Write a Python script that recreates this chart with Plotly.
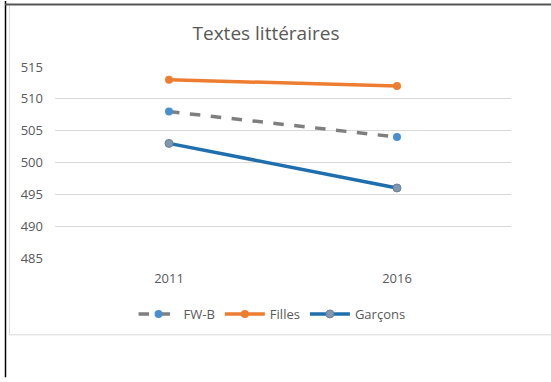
import plotly.graph_objects as go

# Reading scores for literary texts
years = ["2011", "2016"]
fwb = [508, 504]
filles = [513, 512]
garcons = [503, 496]
y_ticks = [485, 490, 495, 500, 505, 510, 515]

W, H = 551, 382
L, R, T, B = 55, 40, 67, 121
pw, ph = W - L - R, H - T - B


def px_x(x):
    return (x - L) / pw


def px_y(y):
    return (H - B - y) / ph


fig = go.Figure()

fig.add_trace(go.Scatter(
    x=years, y=fwb, name="FW-B", mode="lines+markers",
    line=dict(color="#7f7f7f", width=3.5, dash="dash"),
    marker=dict(color="#4a90d0", size=8),
))
fig.add_trace(go.Scatter(
    x=years, y=filles, name="Filles", mode="lines+markers",
    line=dict(color="#ed7d31", width=3.5),
    marker=dict(color="#ed7d31", size=8),
))
fig.add_trace(go.Scatter(
    x=years, y=garcons, name="Garçons", mode="lines+markers",
    line=dict(color="#1f6fae", width=3.5),
    marker=dict(color="#8197b0", size=8, line=dict(color="#6b819a", width=1)),
))

grey = "#595959"
shapes = [
    # sheet frame lines
    dict(type="line", xref="paper", yref="paper",
         x0=px_x(5.5), x1=px_x(5.5), y0=px_y(0), y1=px_y(382),
         line=dict(color="#000000", width=1.5)),
    dict(type="line", xref="paper", yref="paper",
         x0=px_x(5), x1=px_x(551), y0=px_y(3.5), y1=px_y(3.5),
         line=dict(color="#555555", width=2)),
    # chart area border
    dict(type="line", xref="paper", yref="paper",
         x0=px_x(9.5), x1=px_x(9.5), y0=px_y(5), y1=px_y(339),
         line=dict(color="#d9d9d9", width=1)),
    dict(type="line", xref="paper", yref="paper",
         x0=px_x(9.5), x1=px_x(551), y0=px_y(339), y1=px_y(339),
         line=dict(color="#d9d9d9", width=1)),
]

fig.update_layout(
    width=W, height=H,
    margin=dict(l=L, r=R, t=T, b=B),
    paper_bgcolor="white", plot_bgcolor="white",
    font=dict(family="Open Sans, Liberation Sans, sans-serif", color=grey, size=13),
    title=dict(text="Textes littéraires", x=266 / W, xanchor="center",
               y=1 - 33 / H, yanchor="middle",
               font=dict(size=19, color=grey)),
    xaxis=dict(type="category", range=[-0.5, 1.5], showgrid=False,
               showline=False, zeroline=False, ticks="",
               ticklabelstandoff=11, tickfont=dict(size=13, color=grey)),
    yaxis=dict(range=[485, 515], tickvals=y_ticks, showgrid=True,
               gridcolor="#d9d9d9", gridwidth=1, zeroline=False,
               showline=False, ticks="", ticklabelstandoff=11,
               tickfont=dict(size=13, color=grey)),
    legend=dict(orientation="h", x=0.476, xanchor="center",
                yref="container", y=(H - 314) / H, yanchor="middle",
                font=dict(size=13, color=grey), itemwidth=40,
                traceorder="normal"),
    shapes=shapes,
    showlegend=True,
)

fig.write_html("out.html")
